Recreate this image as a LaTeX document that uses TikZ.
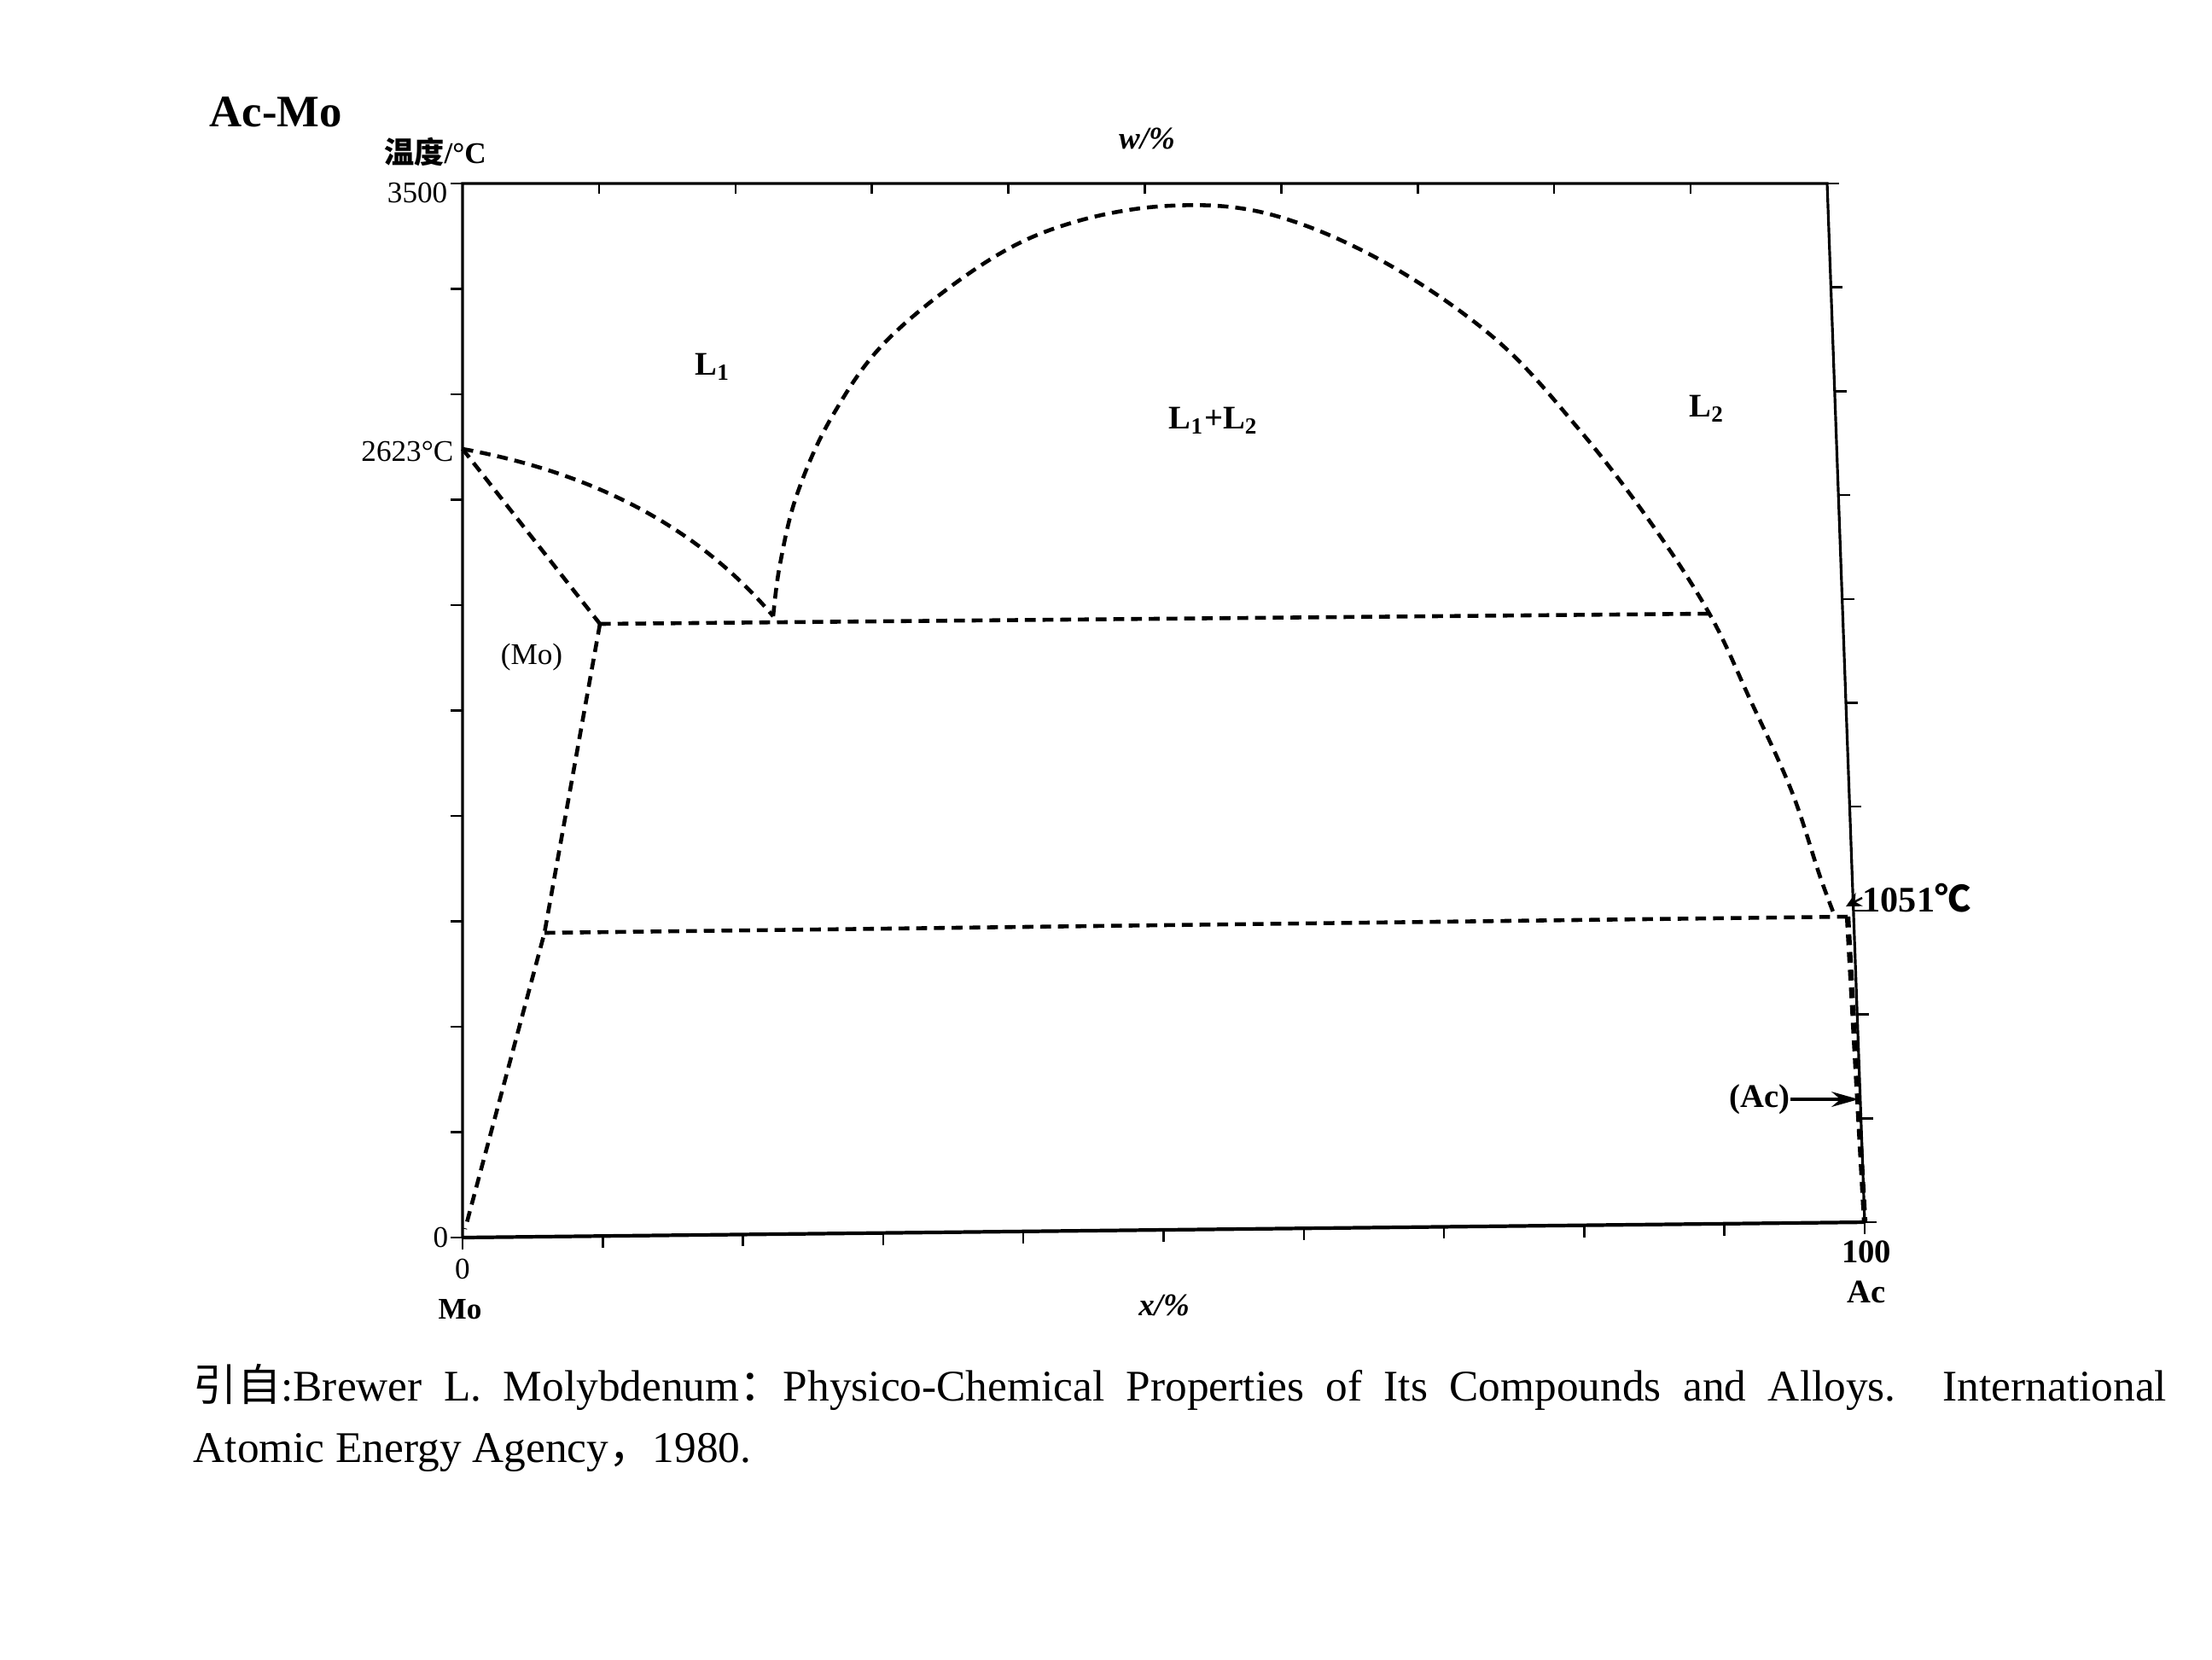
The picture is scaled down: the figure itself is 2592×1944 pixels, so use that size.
\documentclass[tikz,border=0pt]{standalone}
\usepackage{fontspec}
\setmainfont{Liberation Serif}
\newfontfamily\cjk{Noto Sans CJK SC}
\usetikzlibrary{calc,arrows.meta}
\begin{document}
\begin{tikzpicture}[x=0.01cm,y=-0.01cm,
  phase/.style={line width=1.3pt, dash pattern=on 3.6pt off 2.3pt},
  axisline/.style={line width=0.9pt},
  tick/.style={line width=0.7pt},
  lbl/.style={inner sep=0pt, font=\fontsize{10}{12}\selectfont},
  blbl/.style={inner sep=0pt, font=\bfseries\fontsize{11}{13}\selectfont}]
\useasboundingbox[fill=white] (0,0) rectangle (2592,1944);

% frame corners (the scan is slightly skewed)
\coordinate (TL) at (542,215);
\coordinate (TR) at (2141,215);
\coordinate (BR) at (2185,1432);
\coordinate (BL) at (542,1450);
\draw[axisline] (BL) -- (TL) -- (TR) -- (BR);
\draw[axisline, line width=1.2pt] (BL) -- (BR);

% ticks
\foreach \k in {0,...,10} {
  \draw[tick] ($(BL)!\k/10!(TL)$) -- ++(-14,0);
  \draw[tick] ($(BR)!\k/10!(TR)$) -- ++(14,0);
  \draw[tick] ($(BL)!\k/10!(BR)$) -- ++(0,14);
  \draw[tick] ($(TL)!\k/10!(TR)$) -- ++(0,12);
}

% phase points
\coordinate (A) at (542,526);
\coordinate (B) at (703,731);
\coordinate (C) at (906,722);
\coordinate (D) at (2003,719);
\coordinate (E) at (2149,1071);
\coordinate (F) at (2165,1074);
\coordinate (G) at (638,1093);
\coordinate (H) at (545,1440);
\coordinate (Z) at (2185,1432);

% Mo solidus and liquidus
\draw[phase] (A) -- (B);
\draw[phase] (A) .. controls (700,555) and (820,620) .. (C);
% monotectic line
\draw[phase] (B) -- (D);
% miscibility gap
\draw[phase] plot[smooth, tension=0.6] coordinates {(906,722) (914,661) (934,579) (975,488) (1041,397) (1157,306) (1256,261) (1372,241) (1488,251) (1620,306) (1752,397) (1851,504) (1934,612) (2003,719) (2050,818) (2099,926) (2132,1025) (2149,1071)};
% eutectic line
\draw[phase] (G) -- (F);
% Mo solvus
\draw[phase] (B) -- (G) -- (H);
% Ac side
\draw[phase, line width=1.8pt] (F) -- (Z);

% labels
\node[anchor=west, inner sep=0pt, font=\bfseries\fontsize{15}{18}\selectfont] (title) at (245,131) {Ac-Mo};
\node[lbl, font=\bfseries\fontsize{10}{12}\selectfont] (ylab) at (510,178) {{\cjk 温度}/°C};
\node[lbl, anchor=east] (t3500) at (525,226) {3500};
\node[lbl, anchor=east] (t2623) at (532,529) {2623°C};
\node[lbl, font=\bfseries\itshape\fontsize{10.5}{12}\selectfont] (wlab) at (1344,162) {w/\%};
\node[blbl] (L1) at (835,430) {L\textsubscript{1}};
\node[blbl] (L12) at (1422,493) {L\textsubscript{1}+L\textsubscript{2}};
\node[blbl] (L2) at (2000,479) {L\textsubscript{2}};
\node[lbl] (Mo) at (623,770) {(Mo)};
\node[blbl, anchor=west, font=\bfseries\fontsize{12}{14}\selectfont] (t1051) at (2182,1052) {1051{\cjk ℃}};
\coordinate (p1051) at (2163,1062);
\draw[-{Stealth[length=5pt,width=5pt]}, line width=0.7pt] (t1051.west) -- (p1051);
\node[blbl, anchor=east] (aclbl) at (2098,1288) {(Ac)};
\coordinate (acpt) at (2178,1288);
\draw[-{Stealth[length=9pt,width=5pt]}, line width=1.3pt] (aclbl.east) -- (acpt);
\node[lbl, anchor=east] (y0) at (526,1450) {0};
\node[lbl] (x0) at (542,1487) {0};
\node[lbl, font=\bfseries\fontsize{10}{12}\selectfont] (xMo) at (539,1534) {Mo};
\node[blbl] (x100) at (2187,1467) {100};
\node[blbl] (xAc) at (2187,1514) {Ac};
\node[lbl, font=\bfseries\itshape\fontsize{10.5}{12}\selectfont] (xlab) at (1364,1529) {x/\%};

% source
\node[anchor=north west, inner sep=0pt, text width=23.11cm, align=justify,
      font=\fontsize{14.6}{20.2}\selectfont] (src) at (226,1598)
  {{\cjk 引自}:Brewer L. Molybdenum{\cjk ：}Physico-Chemical Properties of Its Compounds and Alloys. International\linebreak
   Atomic Energy Agency{\cjk ，}1980.};
\end{tikzpicture}
\end{document}
